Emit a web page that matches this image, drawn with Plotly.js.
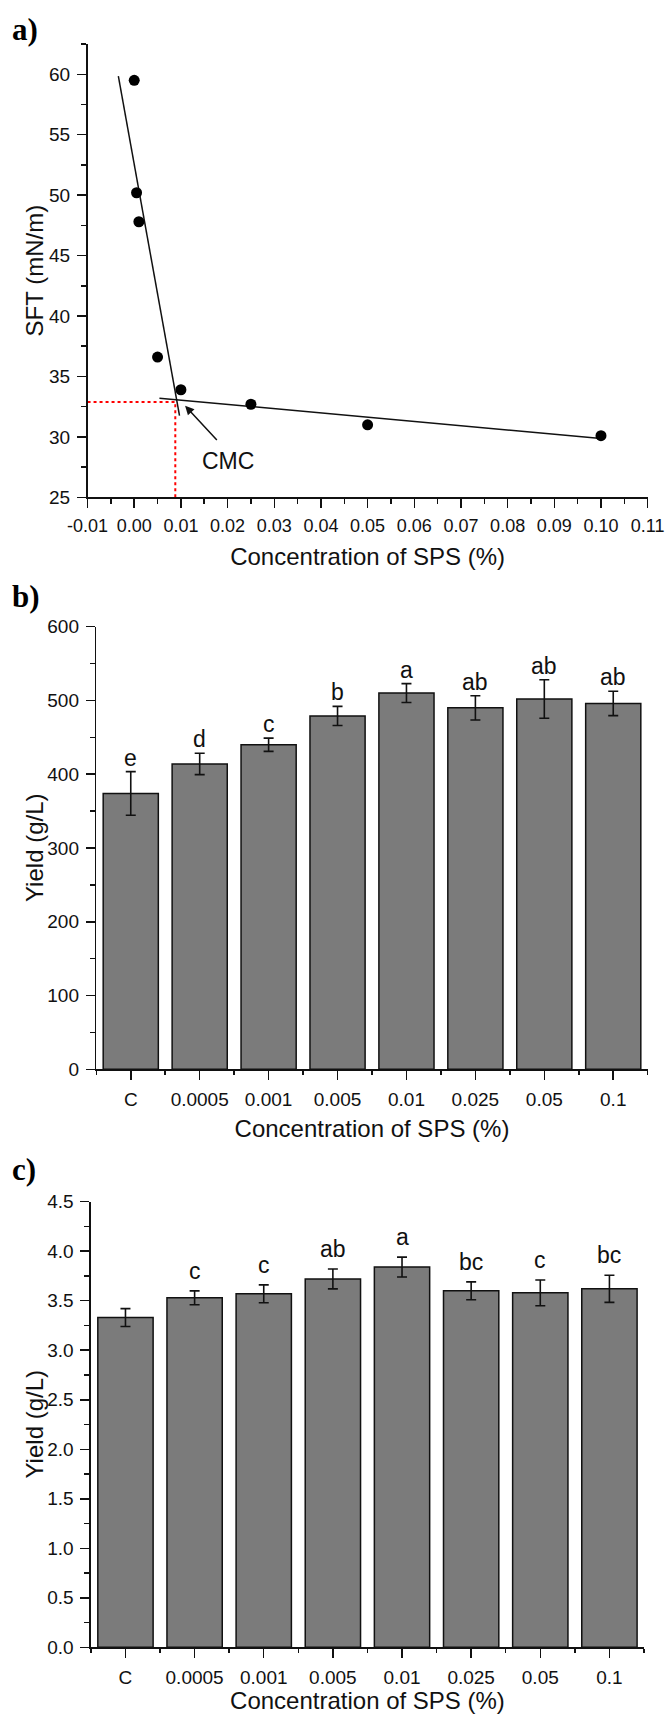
<!DOCTYPE html>
<html>
<head>
<meta charset="utf-8">
<script src="https://cdn.plot.ly/plotly-3.0.1.min.js"></script>
<style>
  html, body { margin: 0; padding: 0; background: #fff; }
  #chart { width: 667px; height: 1714px; }
</style>
</head>
<body>
<div id="chart"></div>
<script>
// (a) surface tension versus SPS concentration
const concA = [0, 0.0005, 0.001, 0.005, 0.01, 0.025, 0.05, 0.1];
const sftA = [59.5, 50.2, 47.8, 36.6, 33.9, 32.7, 31.0, 30.1];
// linear fits on both sides of the break
const fitSteepX = [-0.0034, 0.0097];
const fitSteepY = [59.85, 31.75];
const fitFlatX = [0.0054, 0.100];
const fitFlatY = [33.2, 29.87];
// critical micelle concentration read-off
const cmcX = 0.0088;
const cmcY = 32.88;
const xTickValsA = [-0.01, 0, 0.01, 0.02, 0.03, 0.04, 0.05, 0.06, 0.07, 0.08, 0.09, 0.10, 0.11];
const xTickTextA = ['-0.01', '0.00', '0.01', '0.02', '0.03', '0.04', '0.05', '0.06', '0.07', '0.08', '0.09', '0.10', '0.11'];

// (b) and (c) yields per SPS concentration
const categories = ['C', '0.0005', '0.001', '0.005', '0.01', '0.025', '0.05', '0.1'];
const yieldB = [374, 414, 440, 479, 510, 490, 502, 496];
const errB = [29.5, 14.5, 9, 13, 12.8, 16.5, 26, 16.5];
const lettersB = ['e', 'd', 'c', 'b', 'a', 'ab', 'ab', 'ab'];
const yieldC = [3.33, 3.53, 3.57, 3.72, 3.84, 3.60, 3.58, 3.62];
const errC = [0.09, 0.07, 0.09, 0.10, 0.10, 0.09, 0.13, 0.137];
const lettersC = ['', 'c', 'c', 'ab', 'a', 'bc', 'c', 'bc'];

const W = 667, H = 1714;
const fx = p => p / W;
const fy = p => 1 - p / H;
const idx = categories.map((_, i) => i);

const FONT = '"Liberation Sans", Arial, sans-serif';
const INK = '#111';

function baseAxis(extra) {
  return Object.assign({
    showline: true, linecolor: INK, linewidth: 1.5,
    ticks: 'outside', ticklen: 9, tickwidth: 1.5, tickcolor: INK,
    showgrid: false, zeroline: false, fixedrange: true,
    tickfont: { family: FONT, size: 19, color: INK },
    ticklabelstandoff: 3
  }, extra);
}
function axisTitle(text, standoff) {
  return { text: text, font: { family: FONT, size: 24, color: INK }, standoff: standoff };
}

const traces = [
  { x: fitSteepX, y: fitSteepY, xaxis: 'x', yaxis: 'y', type: 'scatter', mode: 'lines',
    line: { color: INK, width: 1.5 }, hoverinfo: 'skip' },
  { x: fitFlatX, y: fitFlatY, xaxis: 'x', yaxis: 'y', type: 'scatter', mode: 'lines',
    line: { color: INK, width: 1.5 }, hoverinfo: 'skip' },
  { x: [xTickValsA[0], cmcX, cmcX], y: [cmcY, cmcY, 25], xaxis: 'x', yaxis: 'y',
    type: 'scatter', mode: 'lines', line: { color: '#ff0000', width: 2, dash: 'dot' }, hoverinfo: 'skip' },
  { x: concA, y: sftA, xaxis: 'x', yaxis: 'y', type: 'scatter', mode: 'markers',
    marker: { color: '#000', size: 11 } },
  { x: idx, y: yieldB, xaxis: 'x2', yaxis: 'y2', type: 'bar', width: 0.8,
    marker: { color: '#7b7b7b', line: { color: INK, width: 1.5 } },
    error_y: { type: 'data', array: errB, visible: true, color: INK, thickness: 1.6, width: 5 } },
  { x: idx, y: yieldC, xaxis: 'x3', yaxis: 'y3', type: 'bar', width: 0.8,
    marker: { color: '#7b7b7b', line: { color: INK, width: 1.5 } },
    error_y: { type: 'data', array: errC, visible: true, color: INK, thickness: 1.6, width: 5 } }
];

const annotations = [];
// significance letters above the error bars
lettersB.forEach((t, i) => {
  if (!t) return;
  annotations.push({ x: idx[i], y: yieldB[i] + errB[i], xref: 'x2', yref: 'y2', text: t,
    showarrow: false, yanchor: 'bottom', yshift: -1, font: { family: FONT, size: 23, color: INK } });
});
lettersC.forEach((t, i) => {
  if (!t) return;
  annotations.push({ x: idx[i], y: yieldC[i] + errC[i], xref: 'x3', yref: 'y3', text: t,
    showarrow: false, yanchor: 'bottom', yshift: 5, font: { family: FONT, size: 23, color: INK } });
});
// CMC pointer and label
annotations.push({ x: 0.0109, y: 32.58, ax: 0.0180, ay: 29.62, xref: 'x', yref: 'y', axref: 'x', ayref: 'y',
  text: '', showarrow: true, arrowhead: 2, arrowsize: 1.2, arrowwidth: 1.5, arrowcolor: INK });
annotations.push({ x: 0.0200, y: 28.0, xref: 'x', yref: 'y', text: 'CMC', showarrow: false,
  font: { family: FONT, size: 23, color: INK } });
// vertical axis titles, centred on each y axis
[['SFT (mN/m)', 'y domain'], ['Yield (g/L)', 'y2 domain'], ['Yield (g/L)', 'y3 domain']].forEach(([t, ref]) => {
  annotations.push({ x: fx(34), y: 0.5, xref: 'paper', yref: ref, xanchor: 'center', yanchor: 'middle',
    text: t, textangle: -90, showarrow: false, font: { family: FONT, size: 24, color: INK } });
});
// panel letters
[['a)', 29], ['b)', 596], ['c)', 1169]].forEach(([t, yc]) => {
  annotations.push({ x: fx(10), y: fy(yc), xref: 'paper', yref: 'paper', xanchor: 'left', yanchor: 'middle',
    text: '<b>' + t + '</b>', showarrow: false,
    font: { family: '"Liberation Serif", "Times New Roman", serif', size: 31, color: '#000' } });
});

const layout = {
  width: W, height: H,
  margin: { l: 0, r: 0, t: 0, b: 0 },
  paper_bgcolor: '#fff', plot_bgcolor: 'rgba(0,0,0,0)',
  showlegend: false,
  annotations: annotations,
  xaxis: baseAxis({
    domain: [fx(87.5), fx(647.7)], anchor: 'y', range: [-0.01001, 0.11001],
    tickmode: 'array', tickvals: xTickValsA, ticktext: xTickTextA,
    tickfont: { family: FONT, size: 18, color: INK },
    minor: { ticks: 'outside', ticklen: 5, tickwidth: 1.5, tickcolor: INK, tick0: 0, dtick: 0.005 },
    title: axisTitle('Concentration of SPS (%)', 13)
  }),
  yaxis: baseAxis({
    domain: [fy(497.3), fy(43.5)], anchor: 'x', range: [25, 62.55],
    tick0: 0, dtick: 5,
    minor: { ticks: 'outside', ticklen: 5, tickwidth: 1.5, tickcolor: INK, tick0: 0, dtick: 2.5 }
  }),
  xaxis2: baseAxis({
    domain: [fx(96.3), fx(647.7)], anchor: 'y2', range: [-0.5, 7.5],
    tickmode: 'array', tickvals: idx, ticktext: categories,
    minor: { ticks: 'outside', ticklen: 4, tickwidth: 1.5, tickcolor: INK, tick0: 0.5, dtick: 1 },
    title: axisTitle('Concentration of SPS (%)', 11)
  }),
  yaxis2: baseAxis({
    domain: [fy(1069.3), fy(626.7)], anchor: 'x2', range: [0, 600.01],
    tick0: 0, dtick: 100,
    minor: { ticks: 'outside', ticklen: 5, tickwidth: 1.5, tickcolor: INK, tick0: 0, dtick: 50 }
  }),
  xaxis3: baseAxis({
    domain: [fx(90.9), fx(644)], anchor: 'y3', range: [-0.5, 7.5],
    tickmode: 'array', tickvals: idx, ticktext: categories,
    minor: { ticks: 'outside', ticklen: 4, tickwidth: 1.5, tickcolor: INK, tick0: 0.5, dtick: 1 },
    title: axisTitle('Concentration of SPS (%)', 9)
  }),
  yaxis3: baseAxis({
    domain: [fy(1647.3), fy(1201.7)], anchor: 'x3', range: [0, 4.5001],
    tick0: 0, dtick: 0.5, tickformat: '.1f',
    minor: { ticks: 'outside', ticklen: 5, tickwidth: 1.5, tickcolor: INK, tick0: 0, dtick: 0.25 }
  })
};

Plotly.newPlot('chart', traces, layout, { staticPlot: true, displayModeBar: false });
</script>
</body>
</html>
